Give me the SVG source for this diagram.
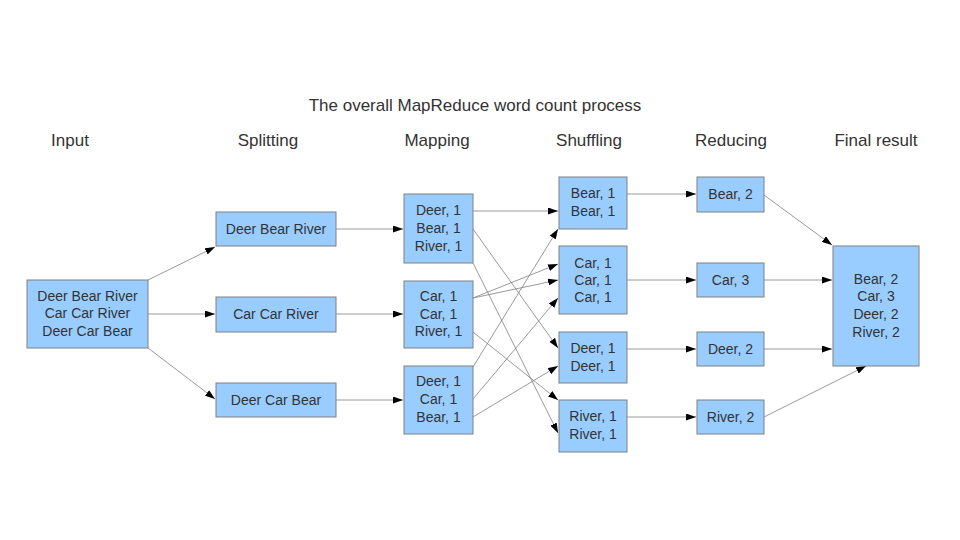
<svg xmlns="http://www.w3.org/2000/svg" width="960" height="540" viewBox="0 0 960 540">
<style>
.box{fill:#99ccff;stroke:#808080;stroke-width:1}
.t{font-family:"Liberation Sans",Arial,sans-serif;font-size:14px;fill:#333333;text-anchor:middle}
.h{font-family:"Liberation Sans",Arial,sans-serif;font-size:17px;fill:#333333;text-anchor:middle}
.c{stroke:#808080;stroke-width:0.8;fill:none;marker-end:url(#ah)}
</style>
<defs>
<marker id="ah" markerUnits="userSpaceOnUse" markerWidth="11" markerHeight="7" refX="10" refY="3.5" orient="auto">
<path d="M0,0 L10,3.5 L0,7 Z" fill="#000000"/>
</marker>
</defs>
<rect width="960" height="540" fill="#ffffff"/>
<g id="titles">
<text class="h" x="475" y="111">The overall MapReduce word count process</text>
<text class="h" x="70" y="146">Input</text>
<text class="h" x="268" y="146">Splitting</text>
<text class="h" x="437" y="146">Mapping</text>
<text class="h" x="589" y="146">Shuffling</text>
<text class="h" x="731" y="146">Reducing</text>
<text class="h" x="876" y="146">Final result</text>
</g>
<g id="connectors">
<line class="c" x1="148" y1="280" x2="215" y2="247"/>
<line class="c" x1="148" y1="314" x2="215" y2="314"/>
<line class="c" x1="148" y1="348" x2="215" y2="399"/>
<line class="c" x1="336" y1="229" x2="403" y2="229"/>
<line class="c" x1="336" y1="314" x2="403" y2="314"/>
<line class="c" x1="336" y1="400" x2="403" y2="400"/>
<line class="c" x1="473" y1="211" x2="558" y2="211"/>
<line class="c" x1="473" y1="229" x2="558" y2="348"/>
<line class="c" x1="473" y1="263" x2="558" y2="433"/>
<line class="c" x1="473" y1="298" x2="558" y2="264"/>
<line class="c" x1="473" y1="298" x2="558" y2="280"/>
<line class="c" x1="473" y1="332" x2="558" y2="400"/>
<line class="c" x1="473" y1="367" x2="558" y2="229"/>
<line class="c" x1="473" y1="399" x2="558" y2="298"/>
<line class="c" x1="473" y1="417" x2="558" y2="366"/>
<line class="c" x1="627" y1="194" x2="696" y2="194"/>
<line class="c" x1="627" y1="280" x2="696" y2="280"/>
<line class="c" x1="627" y1="349" x2="696" y2="349"/>
<line class="c" x1="627" y1="417" x2="696" y2="417"/>
<line class="c" x1="764" y1="195" x2="832" y2="245"/>
<line class="c" x1="764" y1="280" x2="832" y2="280"/>
<line class="c" x1="764" y1="349" x2="832" y2="349"/>
<line class="c" x1="764" y1="417" x2="866" y2="366"/>
</g>
<g id="input">
<rect class="box" x="27" y="280" width="121" height="68"/>
<text class="t" x="87.5" y="301">Deer Bear River</text>
<text class="t" x="87.5" y="318">Car Car River</text>
<text class="t" x="87.5" y="336">Deer Car Bear</text>
</g>
<g id="split1">
<rect class="box" x="216" y="212" width="120" height="34"/>
<text class="t" x="276" y="234">Deer Bear River</text>
</g>
<g id="split2">
<rect class="box" x="216" y="297" width="120" height="35"/>
<text class="t" x="276" y="319">Car Car River</text>
</g>
<g id="split3">
<rect class="box" x="216" y="383" width="120" height="34"/>
<text class="t" x="276" y="405">Deer Car Bear</text>
</g>
<g id="map1">
<rect class="box" x="404" y="194" width="69" height="69"/>
<text class="t" x="438.5" y="215">Deer, 1</text>
<text class="t" x="438.5" y="233">Bear, 1</text>
<text class="t" x="438.5" y="251">River, 1</text>
</g>
<g id="map2">
<rect class="box" x="404" y="281" width="69" height="67"/>
<text class="t" x="438.5" y="301">Car, 1</text>
<text class="t" x="438.5" y="319">Car, 1</text>
<text class="t" x="438.5" y="336">River, 1</text>
</g>
<g id="map3">
<rect class="box" x="404" y="366" width="69" height="68"/>
<text class="t" x="438.5" y="386">Deer, 1</text>
<text class="t" x="438.5" y="404">Car, 1</text>
<text class="t" x="438.5" y="422">Bear, 1</text>
</g>
<g id="shuf1">
<rect class="box" x="559" y="177" width="68" height="52"/>
<text class="t" x="593" y="198">Bear, 1</text>
<text class="t" x="593" y="216">Bear, 1</text>
</g>
<g id="shuf2">
<rect class="box" x="559" y="246" width="68" height="68"/>
<text class="t" x="593" y="268">Car, 1</text>
<text class="t" x="593" y="285">Car, 1</text>
<text class="t" x="593" y="302">Car, 1</text>
</g>
<g id="shuf3">
<rect class="box" x="559" y="332" width="68" height="51"/>
<text class="t" x="593" y="353">Deer, 1</text>
<text class="t" x="593" y="371">Deer, 1</text>
</g>
<g id="shuf4">
<rect class="box" x="559" y="400" width="68" height="52"/>
<text class="t" x="593" y="421">River, 1</text>
<text class="t" x="593" y="439">River, 1</text>
</g>
<g id="red1">
<rect class="box" x="697" y="177" width="67" height="35"/>
<text class="t" x="730.5" y="199">Bear, 2</text>
</g>
<g id="red2">
<rect class="box" x="697" y="263" width="67" height="34"/>
<text class="t" x="730.5" y="285">Car, 3</text>
</g>
<g id="red3">
<rect class="box" x="697" y="332" width="67" height="34"/>
<text class="t" x="730.5" y="354">Deer, 2</text>
</g>
<g id="red4">
<rect class="box" x="697" y="400" width="67" height="34"/>
<text class="t" x="730.5" y="422">River, 2</text>
</g>
<g id="final">
<rect class="box" x="833" y="246" width="86" height="120"/>
<text class="t" x="876" y="284">Bear, 2</text>
<text class="t" x="876" y="301">Car, 3</text>
<text class="t" x="876" y="319">Deer, 2</text>
<text class="t" x="876" y="337">River, 2</text>
</g>
</svg>
